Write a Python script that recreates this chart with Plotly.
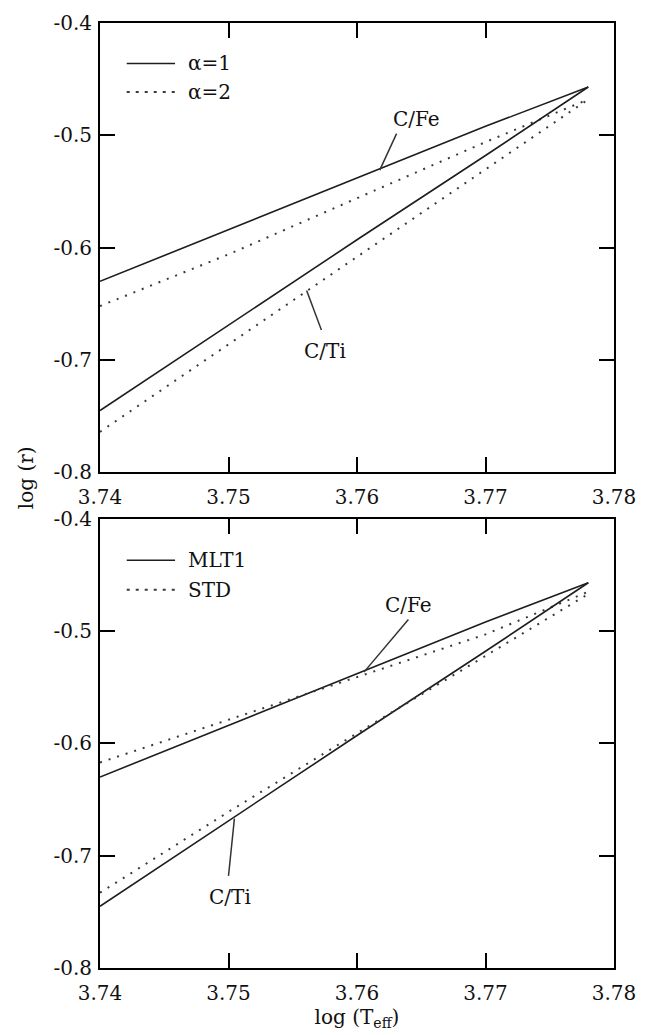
import plotly.graph_objects as go

# ---------------- data ----------------
x_teff = [3.74, 3.75, 3.76, 3.77, 3.778]

# top panel: alpha = 1 (solid) / alpha = 2 (dotted)
cfe_alpha1 = [-0.630, -0.584, -0.538, -0.492, -0.457]
cfe_alpha2 = [-0.652, -0.606, -0.556, -0.506, -0.468]
cti_alpha1 = [-0.745, -0.669, -0.593, -0.518, -0.457]
cti_alpha2 = [-0.764, -0.686, -0.608, -0.530, -0.468]

# bottom panel: MLT1 (solid) / STD (dotted)
cfe_mlt1 = [-0.630, -0.584, -0.538, -0.492, -0.457]
cfe_std = [-0.617, -0.579, -0.541, -0.503, -0.465]
cti_mlt1 = [-0.745, -0.669, -0.593, -0.518, -0.457]
cti_std = [-0.733, -0.661, -0.591, -0.522, -0.467]

x_ticks = [3.74, 3.75, 3.76, 3.77, 3.78]
x_ticklabels = ["3.74", "3.75", "3.76", "3.77", "3.78"]
y_ticks = [-0.8, -0.7, -0.6, -0.5, -0.4]
y_ticklabels = ["-0.8", "-0.7", "-0.6", "-0.5", "-0.4"]

legend_top = ["α=1", "α=2"]
legend_bottom = ["MLT1", "STD"]

FONT = "DejaVu Serif"
FS = 20
SOLID = "#1e1e1e"
DOT = "#3a3a3a"
DOTDASH = "2px,7px"

fig = go.Figure()

def add(xv, yv, xa, ya, dotted):
    fig.add_trace(go.Scatter(
        x=xv, y=yv, xaxis=xa, yaxis=ya, mode="lines",
        line=dict(color=DOT if dotted else SOLID, width=2 if dotted else 1.6,
                  dash=DOTDASH if dotted else "solid"),
        showlegend=False, hoverinfo="skip"))

add(x_teff, cfe_alpha1, "x", "y", False)
add(x_teff, cfe_alpha2, "x", "y", True)
add(x_teff, cti_alpha1, "x", "y", False)
add(x_teff, cti_alpha2, "x", "y", True)
add(x_teff, cfe_mlt1, "x2", "y2", False)
add(x_teff, cfe_std, "x2", "y2", True)
add(x_teff, cti_mlt1, "x2", "y2", False)
add(x_teff, cti_std, "x2", "y2", True)

axis_common = dict(
    showline=True, linecolor="black", linewidth=2, mirror="ticks",
    ticks="inside", ticklen=15, tickwidth=2, tickcolor="black",
    showgrid=False, zeroline=False,
    tickfont=dict(family=FONT, size=FS, color="#111"),
)

xa = dict(axis_common, range=[3.74, 3.78], tickvals=x_ticks, ticktext=x_ticklabels,
          ticklabelstandoff=6)
ya = dict(axis_common, range=[-0.8, -0.4], tickvals=y_ticks, ticktext=y_ticklabels,
          ticklabelstandoff=2)

fig.update_layout(
    width=647, height=1035,
    margin=dict(l=100, r=27, t=11, b=67),
    paper_bgcolor="white", plot_bgcolor="white",
    xaxis=dict(xa, domain=[0, 1], anchor="y"),
    yaxis=dict(ya, domain=[0.52456, 1], anchor="x"),
    xaxis2=dict(xa, domain=[0, 1], anchor="y2",
                title=dict(text="log (T<sub>eff</sub>)", font=dict(family=FONT, size=FS, color="#111"),
                           standoff=4)),
    yaxis2=dict(ya, domain=[0, 0.47544], anchor="x2"),
    showlegend=False,
)

# legends (drawn by hand so the sample lines match the reference length)
def legend(xref, yref, labels, ys):
    for lab, yv, dotted in zip(labels, ys, [False, True]):
        fig.add_shape(type="line", xref=xref, yref=yref, x0=0.052, x1=0.146, y0=yv, y1=yv,
                      line=dict(color=DOT if dotted else SOLID, width=2 if dotted else 1.6,
                                dash="3px,6px" if dotted else "solid"))
        fig.add_annotation(xref=xref, yref=yref, x=0.167, y=yv, text=lab, showarrow=False,
                           xanchor="left", yanchor="middle",
                           font=dict(family=FONT, size=FS, color="#111"))

legend("x domain", "y domain", legend_top, [0.9099, 0.8462])
legend("x2 domain", "y2 domain", legend_bottom, [0.9077, 0.8418])

# curve labels with leader lines
labels = [
    ("x", "y", "C/Fe", 3.76462, -0.4853, (3.76177, -0.5310), (3.76308, -0.4985)),
    ("x", "y", "C/Ti", 3.75754, -0.6919, (3.75608, -0.6382), (3.75723, -0.6734)),
    ("x2", "y2", "C/Fe", 3.76404, -0.4765, (3.76054, -0.5366), (3.76400, -0.4897)),
    ("x2", "y2", "C/Ti", 3.75015, -0.7372, (3.75046, -0.6670), (3.75000, -0.7180)),
]
for xr, yr, txt, tx, ty, p0, p1 in labels:
    fig.add_shape(type="line", xref=xr, yref=yr, x0=p0[0], y0=p0[1], x1=p1[0], y1=p1[1],
                  line=dict(color="#333", width=1.5))
    fig.add_annotation(xref=xr, yref=yr, x=tx, y=ty, text=txt, showarrow=False,
                       font=dict(family=FONT, size=FS, color="#111"))

# shared y-axis title
fig.add_annotation(xref="paper", yref="paper", x=-0.145, y=0.5 - (493 - 511) / 957,
                   text="log (r)", textangle=-90, showarrow=False,
                   xanchor="center", yanchor="middle",
                   font=dict(family=FONT, size=FS, color="#111"))

fig.write_html("out.html")
